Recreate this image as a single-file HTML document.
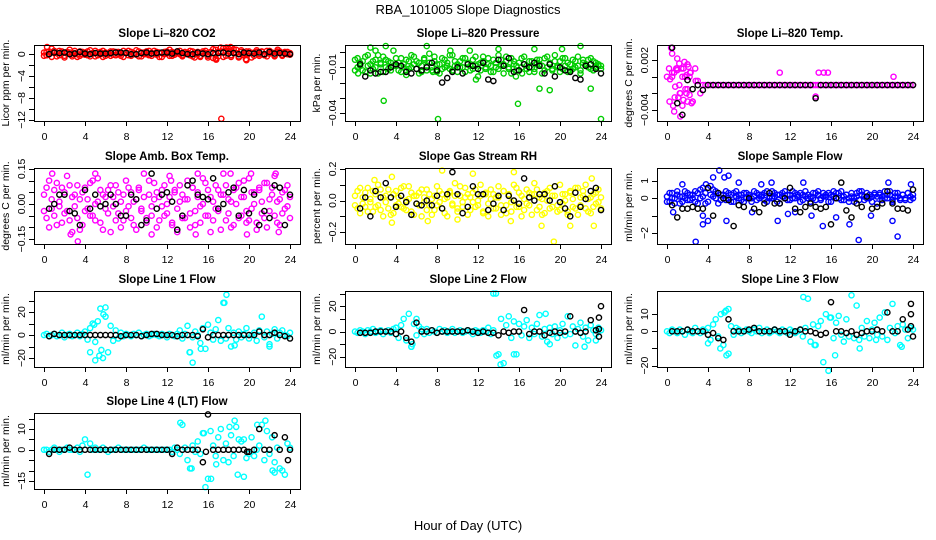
<!DOCTYPE html>
<html><head><meta charset="utf-8"><style>
html,body{margin:0;padding:0;background:#fff;}
svg{display:block;font-family:"Liberation Sans",sans-serif;}
</style></head><body>
<svg id="chart" width="936" height="540" viewBox="0 0 936 540">
<text x="468" y="14" text-anchor="middle" font-size="13">RBA_101005  Slope Diagnostics</text>
<text x="468" y="530" text-anchor="middle" font-size="13">Hour of Day (UTC)</text>
</svg>
<script>
// ---------- DATA ----------
const xTicks=[0,4,8,12,16,20,24];
const colorGridCount=97; // colored series sampled across 0..24 h
const blackStart=0.5, blackStep=0.5;

const co2Red=[0.3,-0.2,0.5,1.0,0.2,-0.4,0.6,0.1,-0.3,0.4,0.8,-0.1,0.2,-0.5,0.5,0.0,0.3,-0.2,0.7,0.1,-0.4,0.3,0.0,0.6,-0.3,0.2,0.5,-0.1,0.4,0.0,-0.3,0.6,0.2,-0.2,0.4,0.1,0.7,-0.4,0.3,0.0,0.5,-0.2,0.2,0.6,-0.1,0.3,-0.5,0.4,0.1,0.8,-0.3,0.2,0.5,0.0,-0.2,0.4,0.1,0.6,-0.4,0.3,0.0,-0.3,0.5,0.2,-0.6,0.3,0.9,-0.8,0.4,1.2,-0.5,0.6,1.0,-0.2,0.3,0.8,-0.6,0.4,0.1,-1.1,0.5,0.2,-0.3,0.7,0.0,0.4,-0.2,0.6,0.1,0.3,-0.4,0.5,0.2,-0.1,0.4,0.0,0.2];
const co2RedB=[-0.3,0.4,0.0,-0.5,0.6,0.2,-0.2,0.5,-0.6,0.1,0.3,-0.4,0.6,0.0,-0.3,0.4,-0.1,0.5,-0.4,0.2,0.6,-0.2,0.4,-0.5,0.3,0.0,-0.3,0.5,-0.2,0.4,0.1,-0.5,0.3,0.6,-0.3,0.2,-0.1,0.5,-0.4,0.3,0.0,0.6,-0.3,0.1,0.4,-0.5,0.2,0.0,0.5,-0.3,0.4,-0.1,0.2,0.6,-0.4,0.1,0.3,-0.2,0.5,0.0,0.4,-0.5,0.2,0.6,-0.3,0.4,-0.7,0.8,-0.4,0.5,1.1,-0.3,0.6,-0.5,0.9,0.2,-0.4,0.7,-0.2,0.5,0.1,-0.6,0.3,0.4,-0.3,0.5,0.0,-0.4,0.6,0.2,-0.2,0.3,0.5,-0.3,0.2,0.4,-0.1];
const co2RedOutX=[17.3,0.3,17.8,18.2,19.7,16.8,22.8,14.7];
const co2RedOutY=[-11.8,1.3,1.2,1.3,-0.9,-1.0,0.8,-0.6];
const co2Black=[0,0.3,0.2,0.3,0,0.1,0.4,0.1,0,0.2,0.1,0.1,0.2,0.3,0.3,0.2,0,0,0.2,0.3,0.1,0.2,0.3,0.3,0.1,0.5,0.2,0,0,0.3,0.1,0,0.2,0.2,0.3,0.1,0.2,0,0.3,0.2,0.1,0.3,0,0.4,0.1,0.2,0.1,0.0];

const presGreen=[-.005,-.010,-.007,-.012,-.003,-.009,-.014,-.006,-.010,-.002,-.008,-.013,-.005,-.011,-.007,.001,-.009,-.012,-.004,-.008,-.015,-.006,-.010,-.003,-.011,-.007,-.013,-.005,-.009,-.001,-.012,-.006,-.008,-.014,-.004,-.010,-.007,-.011,-.002,-.009,-.013,-.006,-.010,-.004,-.008,-.012,-.005,-.009,-.016,-.007,-.003,-.011,-.008,-.013,-.005,-.010,-.002,-.009,-.014,-.006,-.011,-.004,-.008,-.012,-.007,-.010,-.003,-.009,-.013,-.006,-.011,-.005,-.008,-.014,-.004,-.010,-.007,-.012,-.002,-.009,-.006,-.011,-.004,-.013,-.008,-.005,-.010,-.003,-.012,-.007,-.009,-.005,-.011,-.006,-.010,-.008,-.009];
const presGreenB=[-.012,-.004,-.009,-.006,-.013,-.002,-.008,-.011,-.005,-.014,-.007,-.003,-.010,-.006,-.012,-.009,-.004,-.007,-.013,-.010,-.005,-.011,-.002,-.008,-.006,-.014,-.009,-.004,-.012,-.007,-.010,-.003,-.013,-.008,-.011,-.005,-.009,-.002,-.012,-.006,-.008,-.010,-.004,-.013,-.007,-.009,-.011,-.003,-.008,-.012,-.006,-.010,-.004,-.009,-.013,-.007,-.011,-.005,-.008,-.003,-.010,-.014,-.006,-.009,-.012,-.004,-.008,-.011,-.006,-.010,-.013,-.007,-.005,-.009,-.012,-.003,-.008,-.011,-.006,-.010,-.013,-.004,-.009,-.007,-.012,-.011,-.006,-.009,-.014,-.005,-.008,-.010,-.004,-.012,-.007,-.009,-.011];
const presGreenOutX=[0.3,1.5,2.0,3.0,2.8,5.0,7.0,8.1,9.3,7.6,11.2,11.8,14.0,15.7,15.9,18.0,16.3,19.0,20.2,23.0,24.0,22.0,17.5];
const presGreenOutY=[-.014,.003,.001,.004,-.032,-.012,.004,-.044,.001,-.013,.001,-.018,.002,-.016,-.034,-.024,-.014,-.025,.002,-.024,-.044,.004,.002];
const presBlack=[-.008,-.016,-.012,-.014,-.013,-.013,-.010,-.008,-.009,-.013,-.014,-.011,-.012,-.010,-.007,-.012,-.020,-.017,-.013,-.010,-.014,-.008,-.009,-.011,-.007,-.018,-.019,-.005,-.009,-.004,-.013,-.012,-.008,-.010,-.007,-.009,-.014,-.008,-.016,-.010,-.012,-.013,-.017,-.018,-.009,-.008,-.011,-.014];

const tempMag=[0.0,-0.003,0.0005,-0.0025,0.001,-0.002,-0.0035,0.0,-0.0015,0.0005,-0.003,0.001,-0.0005,-0.002,
-0.001,-0.001,-0.001,-0.001,-0.001,-0.001,-0.001,-0.001,-0.001,-0.001,-0.001,-0.001,-0.001,-0.001,-0.001,-0.001,-0.001,-0.001,-0.001,-0.001,-0.001,-0.001,-0.001,-0.001,-0.001,-0.001,-0.001,-0.001,-0.001,-0.001,-0.001,-0.001,-0.001,-0.001,-0.001,-0.001,-0.001,-0.001,-0.001,-0.001,-0.001,-0.001,-0.001,-0.001,-0.001,-0.001,-0.001,-0.001,-0.001,-0.001,-0.001,-0.001,-0.001,-0.001,-0.001,-0.001,-0.001,-0.001,-0.001,-0.001,-0.001,-0.001,-0.001,-0.001,-0.001,-0.001,-0.001,-0.001,-0.001,-0.001,-0.001,-0.001,-0.001,-0.001,-0.001,-0.001,-0.001,-0.001,-0.001,-0.001,-0.001,-0.001,-0.001];
const tempMagOutX=[0.2,0.3,0.5,0.6,0.7,0.8,0.9,1.0,1.1,1.2,1.3,1.4,1.5,1.6,1.7,1.8,1.9,2.0,2.1,2.2,2.3,2.4,0.4,0.7,1.0,1.3,1.6,1.9,2.2,2.5,0.5,1.2,2.0,11.0,14.5,14.8,15.3,15.7,22.1,2.8];
const tempMagOutY=[0.001,-0.0003,0.0028,-0.0035,0.0005,-0.0012,0.001,0.0008,-0.0025,0.0016,-0.002,0.001,0.0,-0.0028,0.0018,-0.0015,0.0002,-0.003,0.0012,-0.0022,0.0005,-0.0032,0.0035,-0.0042,0.0022,-0.0048,0.001,-0.002,0.0,-0.003,0.0,-0.001,0.0015,0.0005,-0.0024,0.0005,0.0005,0.0005,0.0,-0.0005];
const tempBlack=[0.0035,-0.0032,-0.0046,-0.0004,-0.0015,-0.0010,-0.0016,-0.001,-0.001,-0.001,-0.001,-0.001,-0.001,-0.001,-0.001,-0.001,-0.001,-0.001,-0.001,-0.001,-0.001,-0.001,-0.001,-0.001,-0.001,-0.001,-0.001,-0.001,-0.0026,-0.001,-0.001,-0.001,-0.001,-0.001,-0.001,-0.001,-0.001,-0.001,-0.001,-0.001,-0.001,-0.001,-0.001,-0.001,-0.001,-0.001,-0.001,-0.001];

const ambMag=[0.04,-0.06,0.10,-0.02,0.06,-0.09,0.01,0.07,-0.04,0.12,-0.07,0.03,-0.01,0.08,-0.11,0.05,-0.03,0.02,0.09,-0.05,0.00,0.11,-0.08,0.04,-0.02,0.06,-0.12,0.03,0.08,-0.04,0.01,-0.07,0.10,-0.01,0.05,-0.09,0.02,0.07,-0.03,0.13,-0.06,0.04,-0.01,0.09,-0.10,0.03,0.06,-0.05,0.00,0.12,-0.08,0.05,-0.02,0.08,-0.06,0.02,0.10,-0.04,0.07,-0.09,0.03,-0.01,0.11,-0.05,0.06,-0.12,0.01,0.08,-0.03,0.04,0.13,-0.07,0.02,-0.10,0.06,0.00,0.09,-0.05,0.03,-0.08,0.11,-0.02,0.05,-0.11,0.07,0.01,-0.06,0.09,-0.03,0.04,0.12,-0.08,0.02,-0.04,0.06,-0.01,0.03];
const ambMagB=[-0.03,0.07,-0.10,0.02,-0.05,0.09,-0.01,-0.08,0.05,-0.03,0.08,-0.12,0.04,-0.06,0.02,-0.09,0.07,-0.02,-0.05,0.10,-0.07,0.01,0.06,-0.11,0.03,-0.04,0.08,-0.01,-0.07,0.05,-0.10,0.04,-0.03,0.07,-0.06,0.01,-0.11,0.06,-0.02,0.03,-0.08,0.10,-0.05,0.02,0.05,-0.07,-0.01,0.08,-0.04,0.03,-0.09,0.06,-0.12,0.01,0.04,-0.06,0.02,-0.10,0.07,-0.03,0.05,-0.08,0.00,0.09,-0.05,0.03,-0.07,-0.02,0.06,-0.11,0.04,0.08,-0.04,0.01,-0.09,0.07,-0.06,0.03,0.10,-0.03,-0.07,0.05,0.00,-0.08,0.06,-0.04,0.09,-0.10,0.02,0.07,-0.05,0.01,-0.09,0.05,-0.02,0.08,-0.06];
const ambMagOutX=[0.8,2.6,3.3,5.0,10.5,12.4,15.0,14.8,18.2,19.8,22.6,22.9,20.2];
const ambMagOutY=[0.13,-0.13,-0.16,0.13,-0.13,0.10,0.13,-0.13,0.13,-0.13,0.13,-0.12,0.13];
const ambBlack=[-0.02,0.00,0.04,0.04,-0.03,-0.04,-0.09,0.06,-0.02,0.04,-0.01,0.00,0.04,0.00,-0.05,-0.05,0.04,0.02,-0.09,-0.07,0.13,-0.02,0.04,0.05,0.01,-0.11,-0.05,0.08,0.10,0.04,0.03,0.02,0.11,-0.02,0.00,0.05,0.07,-0.05,0.06,-0.04,0.04,-0.09,-0.03,-0.06,0.08,0.07,-0.09,0.04];

const rhYel=[0.03,-0.05,0.08,-0.02,0.05,-0.07,0.01,0.06,-0.04,0.10,-0.06,0.02,-0.01,0.07,-0.09,0.04,-0.03,0.02,0.08,-0.05,0.00,0.09,-0.07,0.03,-0.02,0.05,-0.10,0.02,0.07,-0.03,0.01,-0.06,0.09,-0.01,0.04,-0.08,0.02,0.06,-0.03,0.11,-0.05,0.03,-0.01,0.08,-0.09,0.02,0.05,-0.04,0.00,0.10,-0.07,0.04,-0.02,0.07,-0.05,0.02,0.09,-0.03,0.06,-0.08,0.03,-0.01,0.10,-0.04,0.05,-0.10,0.01,0.07,-0.03,0.04,0.11,-0.06,0.02,-0.09,0.05,0.00,0.08,-0.04,0.03,-0.07,0.10,-0.02,0.04,-0.09,0.06,0.01,-0.05,0.08,-0.03,0.03,0.10,-0.07,0.02,-0.04,0.05,-0.01,0.02];
const rhYelB=[-0.03,0.06,-0.08,0.02,-0.04,0.08,-0.01,-0.07,0.04,-0.03,0.07,-0.10,0.03,-0.05,0.02,-0.08,0.06,-0.02,-0.04,0.09,-0.06,0.01,0.05,-0.09,0.03,-0.03,0.07,-0.01,-0.06,0.04,-0.09,0.03,-0.03,0.06,-0.05,0.01,-0.10,0.05,-0.02,0.03,-0.07,0.09,-0.04,0.02,0.04,-0.06,-0.01,0.07,-0.03,0.03,-0.08,0.05,-0.10,0.01,0.04,-0.05,0.02,-0.09,0.06,-0.03,0.04,-0.07,0.00,0.08,-0.04,0.03,-0.06,-0.02,0.05,-0.09,0.04,0.07,-0.04,0.01,-0.08,0.06,-0.05,0.03,0.09,-0.03,-0.06,0.04,0.00,-0.07,0.05,-0.04,0.08,-0.09,0.02,0.06,-0.05,0.01,-0.08,0.04,-0.02,0.07,-0.05];
const rhYelOutX=[3.6,3.6,7.1,8.5,11.5,15.5,15.2,18.2,19.4,23.3,23.1,1.9,10.0,21.0];
const rhYelOutY=[0.15,-0.14,-0.13,0.19,0.17,0.18,-0.13,-0.16,-0.26,-0.16,0.14,0.13,-0.12,-0.16];
const rhBlack=[-0.05,0.02,-0.10,0.06,0.02,0.11,0.02,-0.04,0.03,-0.01,-0.09,-0.02,-0.03,0.00,-0.03,0.03,-0.05,0.04,0.18,0.04,-0.08,-0.04,0.09,0.04,0.04,-0.06,-0.02,0.03,-0.06,0.03,0.00,-0.02,0.14,0.02,0.00,0.04,0.04,0.00,0.09,-0.01,-0.05,-0.10,0.05,-0.04,0.01,0.06,0.08,-0.06];

const flowBlue=[0.1,-0.2,0.3,0.0,0.2,-0.3,0.1,0.4,-0.1,0.2,0.0,-0.2,0.3,0.5,0.1,-0.3,0.6,0.2,0.5,0.0,0.3,-0.1,0.2,0.4,0.0,-0.2,0.3,0.1,0.2,-0.1,0.3,0.0,0.2,-0.2,0.1,0.3,0.0,0.2,-0.1,0.4,0.1,0.0,0.3,-0.2,0.2,0.1,0.4,-0.1,0.2,0.0,0.3,0.1,-0.2,0.2,0.4,0.0,0.1,0.3,-0.1,0.2,0.0,0.3,0.1,-0.2,0.2,0.4,0.0,0.3,-0.1,0.1,0.2,0.0,0.3,-0.2,0.1,0.4,0.2,-0.1,0.3,0.0,0.1,0.2,-0.3,0.3,0.1,0.0,0.2,0.4,-0.1,0.1,0.3,0.0,0.2,-0.1,0.3,0.1,0.2];
const flowBlueB=[-0.2,0.3,0.0,-0.3,0.4,0.1,-0.2,0.0,0.3,-0.1,0.2,0.4,-0.3,0.0,0.6,0.3,-0.2,0.7,0.1,0.4,-0.3,0.2,0.0,-0.1,0.3,0.2,-0.2,0.4,0.0,0.2,-0.2,0.3,0.1,0.0,0.4,-0.1,0.2,0.1,0.3,-0.2,0.0,0.4,0.1,0.2,-0.3,0.3,0.0,0.2,-0.1,0.4,0.0,0.2,0.3,-0.1,0.1,0.2,-0.2,0.0,0.3,0.4,-0.1,0.1,0.2,0.3,-0.2,0.1,0.3,0.0,0.4,-0.1,0.2,-0.2,0.1,0.0,0.3,-0.1,0.4,0.1,0.0,0.2,-0.2,0.3,0.1,0.2,-0.1,0.4,0.0,0.2,-0.2,0.3,0.1,-0.1,0.2,0.0,0.3,-0.1,0.0];
const flowBlueOutX=[2.8,3.5,3.5,4.0,4.5,5.1,5.6,5.8,6.0,3.8,9.2,10.8,10.2,13.3,12.5,14.1,15.2,17.8,18.7,19.9,21.6,22.0,22.5,23.8,0.6,1.5,7.0,8.3,11.8,16.5];
const flowBlueOutY=[-2.5,-1.0,-1.5,-1.3,1.2,1.6,1.2,-1.3,1.3,0.8,0.8,-1.3,0.9,0.9,-0.8,-1.0,-1.6,-1.5,-2.4,-1.0,0.9,-1.3,-2.2,0.8,-0.8,0.8,0.9,-0.8,-0.9,-1.1];
const flowBlack=[-0.4,-1.1,-0.6,-0.6,-0.5,-0.6,-0.6,0.6,-1.0,0.3,0.0,-0.1,-1.6,-0.4,-0.5,0.0,-0.6,-0.8,-0.3,0.3,-0.3,-0.3,0.0,0.6,-0.6,-0.8,-0.5,-0.3,-0.5,-0.6,-0.5,-1.5,0.0,0.9,-0.7,-1.1,-0.3,-0.5,0.1,-0.6,-0.5,-0.3,0.4,-0.3,-0.6,-0.6,-0.7,0.5];

const line1Cyan=[0,1,-1,0,1,-1,0,2,-2,0,1,-1,0,2,-1,1,3,-4,6,10,-6,12,23,-20,24,-15,8,-5,4,-3,2,-1,1,0,-1,1,0,2,-1,0,1,-1,0,1,0,-1,1,0,-2,1,0,-1,1,4,-3,1,8,-15,-2,3,0,-7,6,-12,9,2,-4,5,13,-5,28,-3,6,-10,2,-4,3,-2,1,6,-3,0,2,-5,4,16,-2,3,-8,1,5,-3,2,4,0,-1,2];
const line1CyanOutX=[4.5,5.0,5.4,5.6,6.0,5.8,4.9,17.8,17.6,14.5,14.2,15.3,18.6,22.0];
const line1CyanOutY=[-15,-22,-18,-13,16,18,9,35,28,-24,-15,-12,-9,-10];
const line1Black=[-1,1,0,0,0,0,0,0,0,0,0,0,0,0,-1,0,0,0,-1,0,1,1,0,0,0,-1,0,0,0,-1,5,-2,0,0,0,0,0,0,0,0,0,3,0,0,2,0,-1,-3];

const line2Cyan=[0,-1,1,0,-2,1,0,2,-1,0,1,-2,0,1,-1,2,3,-5,5,10,-7,14,-12,6,-3,4,2,-2,2,-1,1,0,-1,2,0,1,-1,0,2,-1,0,1,-1,0,1,0,-2,1,0,-1,1,0,3,-2,1,30,-18,10,-25,5,12,-5,8,-18,6,-3,4,9,-5,3,-2,6,13,-4,2,-8,3,-2,4,-5,1,6,-3,12,-2,4,-11,2,7,-4,3,-7,5,1,-2,3,1];
const line2CyanOutX=[5.6,5.5,13.5,13.8,14.2,15.5,18.6,19.0,22.4,23.5,6.0];
const line2CyanOutY=[-10,-12,30,-19,-26,-18,14,-10,-12,-7,10];
const line2Black=[-1,-1,-1,0,0,0,0,-2,0,-5,-8,7,0,0,1,-1,0,0,0,0,0,1,0,-1,0,-1,-1,-3,0,-1,0,0,17,-2,0,0,-3,-1,0,-1,0,12,0,-1,0,9,1,20];
const line2BlackOutX=[23.8,23.8,23.8];
const line2BlackOutY=[11,2,-4];

const line3Cyan=[0,-1,1,0,-1,1,0,-2,1,0,-1,2,0,-1,1,0,2,-5,4,7,-3,10,-8,12,-13,3,-2,2,1,-1,0,1,0,-1,1,0,2,-1,0,1,-1,0,1,0,-1,1,0,-1,1,0,-1,0,1,-3,2,19,-6,4,-8,3,6,-18,10,-23,8,-4,5,9,-2,-6,7,-3,21,-4,15,-5,2,-3,6,-4,1,5,-2,8,-3,11,-5,2,16,-1,3,-8,4,1,-4,2,1];
const line3CyanOutX=[5.6,5.8,5.2,4.0,13.3,14.4,15.9,16.4,18.8,20.4,22.9,6.0];
const line3CyanOutY=[11,-14,-10,-7,20,-8,8,-14,-10,-5,-9,13];
const line3Black=[0,0,0,1,0,0,0,-2,-1,-4,-5,7,0,0,0,1,2,0,0,0,1,0,0,-2,0,1,0,0,-1,-2,-1,17,0,0,-1,0,-2,-1,0,0,1,0,11,0,0,7,1,-3];
const line3BlackOutX=[23.8,23.8,23.8];
const line3BlackOutY=[16,10,3];

const line4Cyan=[0,0,-1,0,1,0,-1,0,0,1,0,0,0,1,-1,2,5,-12,3,0,1,0,0,1,0,-1,0,0,0,1,0,0,0,0,0,0,0,0,0,1,0,0,0,0,0,0,0,0,0,0,-1,1,0,-2,12,1,-5,-9,2,-1,4,-2,8,-18,-14,9,2,-3,6,10,-5,3,-6,7,-3,11,5,4,-13,-4,-2,6,-3,0,2,12,-5,9,-2,6,-6,1,-9,-10,-12,3,1];
const line4CyanOutX=[13.3,14.4,15.6,16.3,16.8,18.1,18.6,18.9,20.8,21.6,22.3,22.5,19.5];
const line4CyanOutY=[13,-9,8,-14,-7,11,14,-12,12,14,-10,-11,5];
const line4Black=[-2,0,0,0,1,0,0,0,0,0,0,0,0,0,0,0,0,0,0,0,0,0,0,0,-2,1,0,0,0,0,-6,17,0,0,0,0,0,0,0,-1,0,10,0,0,7,0,6,0];
const line4BlackOutX=[15.8,23.8,19.8];
const line4BlackOutY=[-1,-5,-1];

// ---------- LAYOUT ----------
const NS='http://www.w3.org/2000/svg';
const svg=document.getElementById('chart');
const colL=[34,345,657], rowT=[45,168,291,413], W=266, H=76;
function mk(tag,attrs,parent){const e=document.createElementNS(NS,tag);for(const k in attrs)e.setAttribute(k,attrs[k]);(parent||svg).appendChild(e);return e;}

const panels=[
 {key:'co2',title:'Slope Li\u2013820 CO2',ylab:'Licor ppm per min.',col:0,row:0,top:1.67,bot:-12.2,ticks:[0,-2,-4,-6,-8,-10,-12],labels:[0,-4,-8,-12],fmt:v=>String(v).replace('-','\u2212'),color:'#ff0000',c:[co2Red,co2RedB],ox:co2RedOutX,oy:co2RedOutY,b:co2Black},
 {key:'pressure',title:'Slope Li\u2013820 Pressure',ylab:'kPa per min.',col:1,row:0,top:0.0047,bot:-0.0453,ticks:[0,-0.01,-0.02,-0.03,-0.04],labels:[-0.01,-0.04],fmt:v=>v.toFixed(2).replace('-','\u2212'),color:'#00cd00',c:[presGreen,presGreenB],ox:presGreenOutX,oy:presGreenOutY,b:presBlack},
 {key:'temp',title:'Slope Li\u2013820 Temp.',ylab:'degrees C per min.',col:2,row:0,top:0.00384,bot:-0.00535,ticks:[0.002,0,-0.002,-0.004],labels:[0.002,-0.004],fmt:v=>v.toFixed(3).replace('-','\u2212'),color:'#ff00ff',c:[tempMag],ox:tempMagOutX,oy:tempMagOutY,b:tempBlack},
 {key:'ambtemp',title:'Slope Amb. Box Temp.',ylab:'degrees C per min.',col:0,row:1,top:0.154,bot:-0.171,ticks:[0.15,0.1,0.05,0,-0.05,-0.1,-0.15],labels:[0.15,0,-0.15],fmt:v=>v.toFixed(2).replace('-','\u2212'),color:'#ff00ff',c:[ambMag,ambMagB],ox:ambMagOutX,oy:ambMagOutY,b:ambBlack},
 {key:'rh',title:'Slope Gas Stream RH',ylab:'percent per min.',col:1,row:1,top:0.206,bot:-0.275,ticks:[0.2,0.1,0,-0.1,-0.2],labels:[0.2,0,-0.2],fmt:v=>v.toFixed(1).replace('-','\u2212'),color:'#ffff00',c:[rhYel,rhYelB],ox:rhYelOutX,oy:rhYelOutY,b:rhBlack},
 {key:'sampleflow',title:'Slope Sample Flow',ylab:'ml/min per min.',col:2,row:1,top:1.74,bot:-2.63,ticks:[1,0,-1,-2],labels:[1,0,-2],fmt:v=>String(v).replace('-','\u2212'),color:'#0000ff',c:[flowBlue,flowBlueB],ox:flowBlueOutX,oy:flowBlueOutY,b:flowBlack},
 {key:'line1',title:'Slope Line 1 Flow',ylab:'ml/min per min.',col:0,row:2,top:38.3,bot:-27.8,ticks:[30,20,10,0,-10,-20],labels:[20,0,-20],fmt:v=>String(v).replace('-','\u2212'),color:'#00ffff',c:[line1Cyan],ox:line1CyanOutX,oy:line1CyanOutY,b:line1Black},
 {key:'line2',title:'Slope Line 2 Flow',ylab:'ml/min per min.',col:1,row:2,top:32,bot:-28,ticks:[30,20,10,0,-10,-20],labels:[20,0,-20],fmt:v=>String(v).replace('-','\u2212'),color:'#00ffff',c:[line2Cyan],ox:line2CyanOutX,oy:line2CyanOutY,b:line2Black,bx:line2BlackOutX,by:line2BlackOutY},
 {key:'line3',title:'Slope Line 3 Flow',ylab:'ml/min per min.',col:2,row:2,top:23.5,bot:-20.8,ticks:[10,0,-10,-20],labels:[10,0,-20],fmt:v=>String(v).replace('-','\u2212'),color:'#00ffff',c:[line3Cyan],ox:line3CyanOutX,oy:line3CyanOutY,b:line3Black,bx:line3BlackOutX,by:line3BlackOutY},
 {key:'line4',title:'Slope Line 4 (LT) Flow',ylab:'ml/min per min.',col:0,row:3,top:17.7,bot:-18.9,ticks:[15,10,5,0,-5,-10,-15],labels:[10,0,-15],fmt:v=>String(v).replace('-','\u2212'),color:'#00ffff',c:[line4Cyan],ox:line4CyanOutX,oy:line4CyanOutY,b:line4Black,bx:line4BlackOutX,by:line4BlackOutY}
];

panels.forEach(p=>{
  const L=colL[p.col], T=rowT[p.row];
  const g=mk('g',{});
  
  
  const xs=h=>L+10+h*(246/24);
  const ys=v=>T+(p.top-v)/(p.top-p.bot)*H;
  const t=mk('text',{x:L+W/2,y:T-8,'text-anchor':'middle','font-size':'11.5','font-weight':'bold'},g);
  t.textContent=p.title;
  
  
  const yl=mk('text',{transform:`translate(${L-25},${T+H/2}) rotate(-90)`,'text-anchor':'middle','font-size':'10.5'},g);
  yl.textContent=p.ylab;
  
  
  // points: colored grid series
  const pts=mk('g',{fill:'none','stroke-width':'1.4'},g);
  
  
  p.c.forEach(arr=>{
    arr.forEach((v,i)=>{
      const h=i*24/(arr.length-1);
      const c=mk('circle',{cx:xs(h),cy:ys(v),r:2.6,stroke:p.color},pts);
      
      
    });
  });
  p.ox.forEach((h,i)=>{
    const c=mk('circle',{cx:xs(h),cy:ys(p.oy[i]),r:2.6,stroke:p.color},pts);
    
    
  });
  p.b.forEach((v,i)=>{
    const h=blackStart+i*blackStep;
    const c=mk('circle',{cx:xs(h),cy:ys(v),r:2.6,stroke:'#000'},pts);
    
    
  });
  if(p.bx){p.bx.forEach((h,i)=>{
    const c=mk('circle',{cx:xs(h),cy:ys(p.by[i]),r:2.6,stroke:'#000'},pts);
    
    
  });}
  // frame
  const fr=mk('rect',{x:L+0.5,y:T+0.5,width:W,height:H,fill:'none',stroke:'#000','stroke-width':'1'},g);
  
  
  // x axis
  const xa=mk('g',{stroke:'#000','stroke-width':'1'},g);
  
  
  xTicks.forEach(h=>{
    const x=Math.round(xs(h))+0.5;
    mk('line',{x1:x,x2:x,y1:T+H,y2:T+H+5},xa);
    const tl=mk('text',{x:x,y:T+H+19,'text-anchor':'middle','font-size':'10.5',stroke:'none',fill:'#000'},xa);
    tl.textContent=h;
    
    
  });
  // y axis
  const ya=mk('g',{stroke:'#000','stroke-width':'1'},g);
  
  
  p.ticks.forEach(v=>{
    const y=Math.round(ys(v))+0.5;
    mk('line',{x1:L-5,x2:L,y1:y,y2:y},ya);
  });
  p.labels.forEach(v=>{
    const y=ys(v);
    const tl=mk('text',{transform:`translate(${L-9},${y}) rotate(-90)`,'text-anchor':'middle','font-size':'10.5',stroke:'none',fill:'#000'},ya);
    tl.textContent=p.fmt(v);
    
    
  });
});
</script>
</body></html>
